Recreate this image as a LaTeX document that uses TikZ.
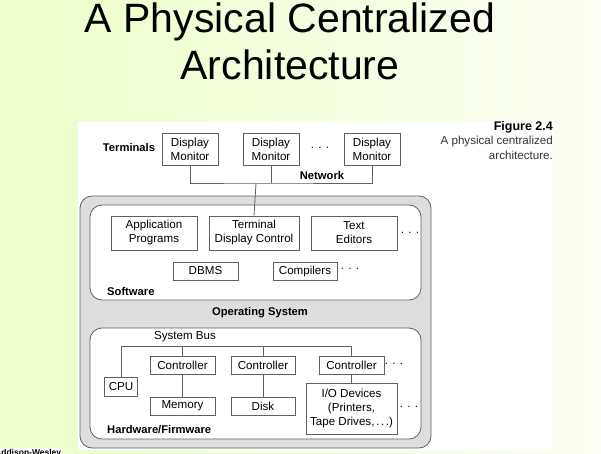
\documentclass[tikz,border=0pt]{standalone}
\usepackage{fontspec}
\setmainfont{Liberation Sans}
\definecolor{bgleft}{RGB}{236,255,200}
\definecolor{bgright}{RGB}{252,255,244}
\definecolor{framegray}{RGB}{221,221,221}
\definecolor{linegray}{RGB}{95,95,95}

\begin{document}
\begin{tikzpicture}[x=1pt,y=-1pt,
  box/.style={draw=linegray,line width=0.8pt,fill=white,align=center,inner sep=0pt,
    font=\fontsize{11.6}{14}\selectfont},
  lbl/.style={font=\fontsize{11.2}{14}\selectfont\bfseries,inner sep=0pt},
  dots/.style={font=\fontsize{11.6}{14}\selectfont,inner sep=0pt},
  frame/.style={draw=linegray,line width=0.8pt,rounded corners=12pt},
  wire/.style={draw=linegray,line width=0.8pt}]
\useasboundingbox (0,0) rectangle (601,454);
\clip (0,0) rectangle (601,454);
\shade[left color=bgleft,right color=bgright] (0,0) rectangle (601,454);
\node[font=\fontsize{41}{48}\selectfont,anchor=base,inner sep=0pt] (title1) at (290,33) {A Physical Centralized};
\node[font=\fontsize{41}{48}\selectfont,anchor=base,inner sep=0pt] (title2) at (290,80) {Architecture};
\fill[white] (78,122) rectangle (553,450);
\node[anchor=north east,align=right,inner sep=0pt,font=\fontsize{11.6}{14.5}\selectfont] (caption) at (553,121)
  {{\fontsize{12.5}{14.5}\selectfont\bfseries Figure 2.4}\\\color{black!80}A physical centralized\\\color{black!80}architecture.};
\node[anchor=base west,inner sep=1pt,fill=white,font=\fontsize{8.5}{10}\selectfont\bfseries] (publisher) at (-6,455) {Addison-Wesley};

\node[lbl] (terminals) at (129,147) {Terminals};
\node[box,minimum width=56pt,minimum height=32pt] (dm1) at (190,149) {Display\\Monitor};
\node[box,minimum width=56pt,minimum height=32pt] (dm2) at (271,149) {Display\\Monitor};
\node[dots] (dmdots) at (320,148) {. . .};
\node[box,minimum width=56pt,minimum height=32pt] (dm3) at (372,149) {Display\\Monitor};
\node[lbl] (network) at (322,175) {Network};
\coordinate (net) at (256,183);

\draw[frame,fill=framegray] (80,196) rectangle (431,448);
\draw[frame,fill=white] (90,205) rectangle (421,300);
\draw[frame,fill=white] (90,328) rectangle (421,439);

\node[box,minimum width=86pt,minimum height=34pt] (apps) at (154,233) {Application\\Programs};
\node[box,minimum width=90pt,minimum height=34pt] (tdc) at (254,233) {Terminal\\Display Control};
\node[box,minimum width=86pt,minimum height=34pt] (editors) at (354,233) {Text\\Editors};
\node[dots] (swdots1) at (410,233) {. . .};
\node[box,minimum width=65pt,minimum height=18pt] (dbms) at (205.5,271) {DBMS};
\node[box,minimum width=64pt,minimum height=18pt] (compilers) at (305,271) {Compilers};
\node[dots] (swdots2) at (350,269) {. . .};
\node[lbl,anchor=west] (software) at (107,291) {Software};
\node[lbl] (os) at (260,313) {Operating System};

\node[dots] (sysbus) at (185,337) {System Bus};
\coordinate (bus) at (0,346);
\node[box,minimum width=33pt,minimum height=19pt] (cpu) at (121,386.5) {CPU};
\node[box,minimum width=65pt,minimum height=18pt] (ctl1) at (182.5,365) {Controller};
\node[box,minimum width=64pt,minimum height=18pt] (ctl2) at (263,365) {Controller};
\node[box,minimum width=65pt,minimum height=18pt] (ctl3) at (351.5,365) {Controller};
\node[dots] (hwdots1) at (394,364) {. . .};
\node[box,minimum width=65pt,minimum height=18pt] (memory) at (182.5,406) {Memory};
\node[box,minimum width=64pt,minimum height=18pt] (disk) at (263,406) {Disk};
\node[box,minimum width=91pt,minimum height=51pt] (io) at (351.5,408.5) {I/O Devices\\(Printers,\\Tape Drives,\,.\kern1.5pt.\kern1.5pt.)};
\node[dots] (hwdots2) at (409,407) {. . .};
\node[lbl,anchor=west] (hardware) at (107,430) {Hardware/Firmware};

\draw[wire] (dm1.south) |- (net) -| (dm3.south);
\draw[wire] (dm2.south) -- (dm2.south |- net);
\draw[wire] (net) -- (tdc.north);
\draw[wire] (cpu.north) |- (ctl3.north |- bus) -- (ctl3.north);
\draw[wire] (ctl1.north |- bus) -- (ctl1.north);
\draw[wire] (ctl2.north |- bus) -- (ctl2.north);
\draw[wire] (ctl1) -- (memory);
\draw[wire] (ctl2) -- (disk);
\draw[wire] (ctl3) -- (io);
\end{tikzpicture}
\end{document}
